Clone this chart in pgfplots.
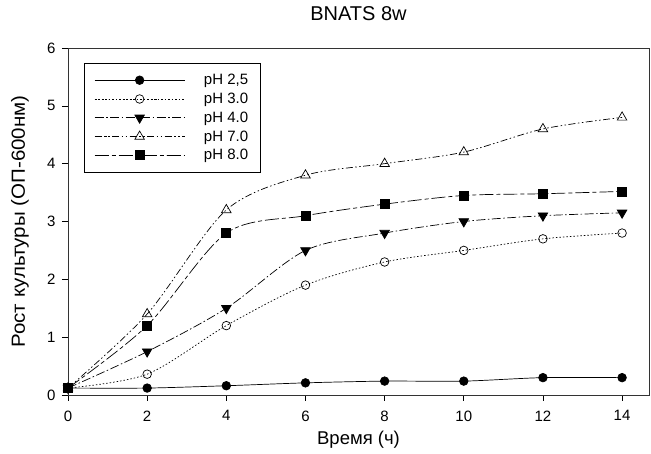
\documentclass[border=0pt]{standalone}
\usepackage{fontspec}
\setmainfont{Liberation Sans}
\newfontfamily\ylfont[FakeStretch=1.08]{Liberation Sans}
\usepackage{pgfplots}
\pgfplotsset{compat=1.18}
\begin{document}
\begin{tikzpicture}
\begin{axis}[
  scale only axis, width=581pt, height=347pt,
  xmin=0, xmax=14.68, ymin=0, ymax=6,
  xtick={0,2,...,14}, ytick={0,1,...,6},
  tick align=outside, major tick length=6pt, tick pos=left,
  axis line style={line width=0.6pt, black!80},
  every tick/.style={black, line width=0.6pt},
  /pgf/number format/assume math mode=true,
  ticklabel style={font=\fontsize{15}{17}\selectfont},
  xticklabel style={yshift=-6pt},
  yticklabel style={xshift=-3pt},
  title={BNATS 8w},
  title style={at={(0.5,1.0807)}, anchor=center, font=\fontsize{20}{23}\selectfont},
  xlabel={Время (ч)},
  ylabel={Рост культуры (ОП-600нм)},
  xlabel style={at={(0.5,-0.1297)}, anchor=center, font=\fontsize{18.5}{21}\selectfont},
  ylabel style={at={(-0.0826,0.5)}, anchor=center, font=\ylfont\fontsize{19}{21}\selectfont},
  legend style={at={(0.0275,0.957)}, anchor=north west, draw=black, line width=0.6pt,
    font=\fontsize{15}{17}\selectfont, inner xsep=10pt, inner ysep=9pt, row sep=2.8pt,
    nodes={inner sep=2pt},
    /tikz/every odd column/.append style={column sep=17pt},
    cells={anchor=west}},
  legend cell align=left,
  legend image code/.code={\draw[mark repeat=2,mark phase=2,#1] plot coordinates {(0pt,0pt)(45pt,0pt)(90pt,0pt)};},
  every axis plot/.append style={line width=0.7pt, black, smooth, tension=0.5},
]
\addplot[solid, mark=*, mark size=4.3pt, mark options={solid, fill=black}] coordinates {
(0,0.12) (2,0.12) (4,0.16) (6,0.21) (8,0.24) (10,0.24) (12,0.30) (14,0.30)};
\addlegendentry{pH 2,5}
\addplot[dash pattern=on 1.5pt off 2pt, mark=o, mark size=4.3pt, mark options={solid, fill=white}] coordinates {
(0,0.12) (2,0.36) (4,1.2) (6,1.9) (8,2.3) (10,2.5) (12,2.7) (14,2.8)};
\addlegendentry{pH 3.0}
\addplot[dash pattern=on 9pt off 2.5pt on 1.5pt off 2.5pt, mark=triangle*, mark size=5.5pt, mark options={solid, rotate=180, fill=black}] coordinates {
(0,0.12) (2,0.75) (4,1.5) (6,2.5) (8,2.8) (10,3.0) (12,3.1) (14,3.15)};
\addlegendentry{pH 4.0}
\addplot[dash pattern=on 7pt off 2.5pt on 1.5pt off 2.5pt on 1.5pt off 2.5pt, mark=triangle, mark size=5.5pt, mark options={solid, fill=white}] coordinates {
(0,0.12) (2,1.4) (4,3.2) (6,3.8) (8,4.0) (10,4.2) (12,4.6) (14,4.8)};
\addlegendentry{pH 7.0}
\addplot[dash pattern=on 14pt off 3pt on 4pt off 3pt, mark=square*, mark size=4.5pt, mark options={solid, fill=black}] coordinates {
(0,0.12) (2,1.2) (4,2.8) (6,3.1) (8,3.3) (10,3.45) (12,3.48) (14,3.52)};
\addlegendentry{pH 8.0}
\end{axis}
\pgfresetboundingbox
\path ([xshift=-68pt,yshift=-59pt]current axis.south west) rectangle ([xshift=2pt,yshift=48pt]current axis.north east);
\end{tikzpicture}
\end{document}
